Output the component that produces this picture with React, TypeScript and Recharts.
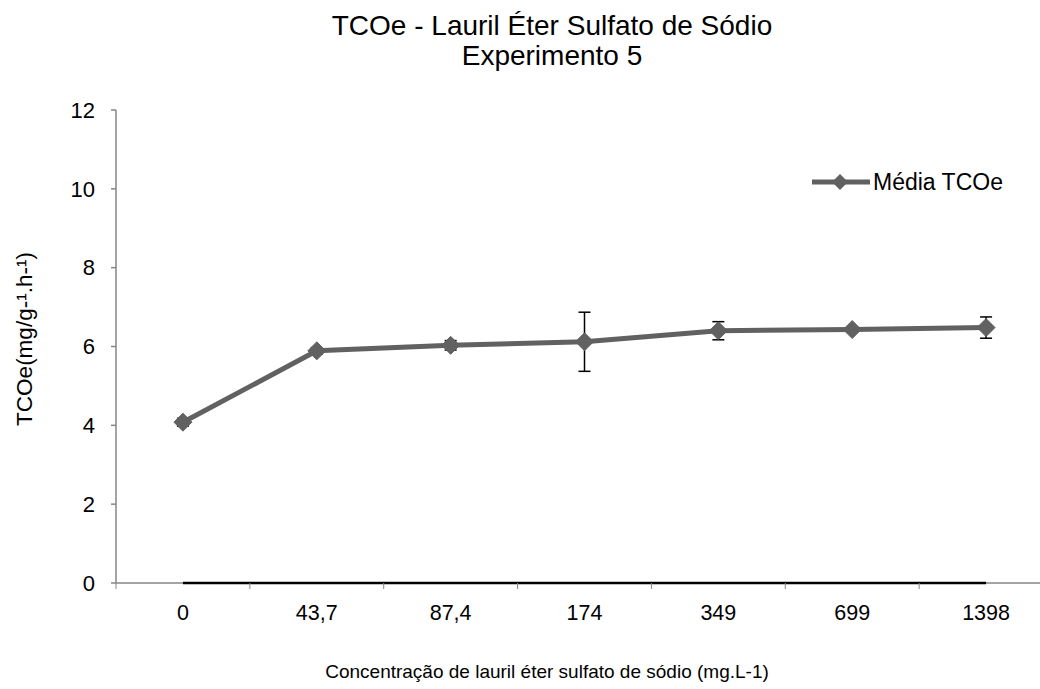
import React from "react";
import { LineChart, Line, XAxis, YAxis, ErrorBar, ReferenceLine } from "recharts";

const categories = ["0", "43,7", "87,4", "174", "349", "699", "1398"];
const mediaTCOe = [4.08, 5.89, 6.03, 6.12, 6.4, 6.43, 6.48];
const desvio = [0.1, 0.08, 0.12, 0.75, 0.23, 0.05, 0.27];
const zeroLine = [0, 0, 0, 0, 0, 0, 0];
const yTicks = [0, 2, 4, 6, 8, 10, 12];
// category boundaries (integers) and category centres (halves)
const xTicks = [0, 0.5, 1, 1.5, 2, 2.5, 3, 3.5, 4, 4.5, 5, 5.5, 6, 6.5, 7];

const data = categories.map((c, i) => ({
  x: i + 0.5,
  cat: c,
  media: mediaTCOe[i],
  err: desvio[i],
  zero: zeroLine[i],
}));

const LINE = "#616161";
const AXIS = "#868686";
const FONT = "'Liberation Sans', Arial, sans-serif";

const Diamond = (props: any) => {
  const { cx, cy } = props;
  if (cx == null || cy == null) return null;
  const r = 9;
  return (
    <polygon
      points={`${cx},${cy - r} ${cx + r},${cy} ${cx},${cy + r} ${cx - r},${cy}`}
      fill={LINE}
      stroke={LINE}
    />
  );
};

const XTick = (props: any) => {
  const { x, y, payload } = props;
  const v = payload.value as number;
  if (Number.isInteger(v)) {
    return <line x1={x} y1={y} x2={x} y2={y + 6} stroke={AXIS} strokeWidth={1} />;
  }
  const label = categories[Math.round(v - 0.5)];
  return (
    <text x={x} y={y + 37} textAnchor="middle" fontSize={21.5} fontFamily={FONT} fill="#000">
      {label}
    </text>
  );
};

export default function App() {
  return (
    <div
      style={{
        position: "absolute",
        left: 0,
        top: 0,
        width: 1040,
        height: 689,
        overflow: "hidden",
        background: "#fff",
        fontFamily: FONT,
      }}
    >
      <LineChart
        width={1060}
        height={689}
        data={data}
        margin={{ top: 110, right: 7, left: 0, bottom: 76 }}
      >
        <XAxis
          dataKey="x"
          type="number"
          domain={[0, 7]}
          ticks={xTicks}
          interval={0}
          height={30}
          axisLine={false}
          tickLine={false}
          tickSize={0}
          tickMargin={0}
          tick={<XTick />}
          allowDataOverflow
        />
        <YAxis
          width={116}
          domain={[0, 12]}
          ticks={yTicks}
          interval={0}
          axisLine={{ stroke: AXIS, strokeWidth: 1.5 }}
          tickLine={{ stroke: AXIS, strokeWidth: 1.5 }}
          tickSize={5}
          tickMargin={16}
          tick={{ fontSize: 22, fill: "#000", fontFamily: FONT }}
        />
        <ReferenceLine y={0} stroke={AXIS} strokeWidth={1.5} />
        <Line
          dataKey="zero"
          stroke="#000"
          strokeWidth={2.5}
          dot={false}
          activeDot={false}
          isAnimationActive={false}
        />
        <Line
          dataKey="media"
          stroke={LINE}
          strokeWidth={5}
          dot={<Diamond />}
          activeDot={false}
          isAnimationActive={false}
        >
          <ErrorBar dataKey="err" width={6} stroke="#000" strokeWidth={1.5} direction="y" />
        </Line>
      </LineChart>
      <svg
        width={1040}
        height={689}
        style={{ position: "absolute", left: 0, top: 0, pointerEvents: "none" }}
      >
        <text x={552} y={35} textAnchor="middle" fontSize={28} fontFamily={FONT} fill="#000">
          TCOe - Lauril Éter Sulfato de Sódio
        </text>
        <text x={552} y={65} textAnchor="middle" fontSize={28} fontFamily={FONT} fill="#000">
          Experimento 5
        </text>
        <text
          x={0}
          y={0}
          transform="translate(32,339) rotate(-90)"
          textAnchor="middle"
          fontSize={22.5}
          fontFamily={FONT}
          fill="#000"
        >
          TCOe(mg/g-¹.h-¹)
        </text>
        <text x={547} y={678} textAnchor="middle" fontSize={19} fontFamily={FONT} fill="#000">
          Concentração de lauril éter sulfato de sódio (mg.L-1)
        </text>
        <line x1={812} y1={182} x2={870} y2={182} stroke={LINE} strokeWidth={5} />
        <polygon points="840,174 848,182 840,190 832,182" fill={LINE} />
        <text x={873} y={190} fontSize={23} fontFamily={FONT} fill="#000">
          Média TCOe
        </text>
      </svg>
    </div>
  );
}
